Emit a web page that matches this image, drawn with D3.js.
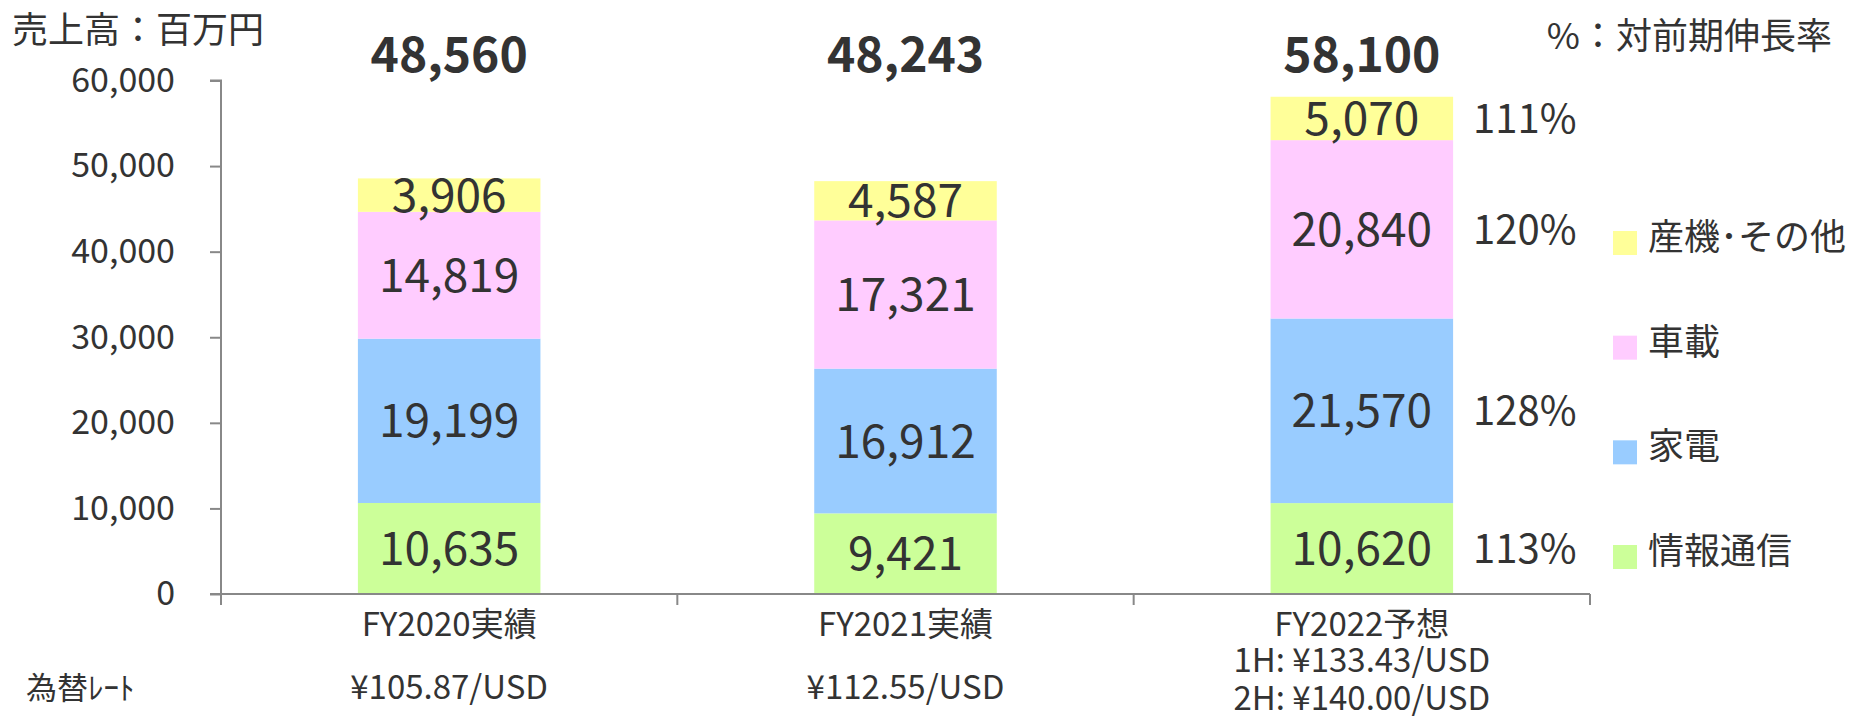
<!DOCTYPE html>
<html>
<head>
<meta charset="utf-8">
<script src="https://cdn.jsdelivr.net/npm/d3@7"></script>
<style>
    body { margin: 0; background: #fff; }
    text { font-family: "Noto Sans CJK JP", "Noto Sans", sans-serif; fill: #333; }
</style>
</head>
<body>
<div id="chart"></div>
<script>
// data
var categories = ["FY2020実績", "FY2021実績", "FY2022予想"];
var seriesNames = ["情報通信", "家電", "車載", "産機･その他"];
var infoComm = [10635, 9421, 10620];
var homeAppl = [19199, 16912, 21570];
var automotive = [14819, 17321, 20840];
var industrial = [3906, 4587, 5070];
var totals = [48560, 48243, 58100];
var growth = ["113%", "128%", "120%", "111%"]; // FY2022, bottom to top
var rateLines = [["¥105.87/USD"], ["¥112.55/USD"], ["1H: ¥133.43/USD", "2H: ¥140.00/USD"]];
var yTicks = [0, 10000, 20000, 30000, 40000, 50000, 60000];
var colors = ["#ccff99", "#99ccff", "#ffccff", "#ffff99"];

(function () {
var W = 1856, H = 719;
var pl = 221, pr = 1590, pt = 80.5, pb = 594;

var svg = d3.select("#chart").append("svg")
    .attr("width", W)
    .attr("height", H);

var x = d3.scaleBand().domain(categories).range([pl, pr]);
var y = d3.scaleLinear().domain([0, 60000]).range([pb, pt]);
var fmt = d3.format(",");

var rows = categories.map(function (c, i) {
    return { cat: c, 情報通信: infoComm[i], 家電: homeAppl[i], 車載: automotive[i], "産機･その他": industrial[i] };
});
var stack = d3.stack().keys(seriesNames)(rows);

var barW = x.bandwidth() * 0.4;
var barOff = (x.bandwidth() - barW) / 2;

// bars
var layers = svg.selectAll(".layer")
    .data(stack)
    .enter().append("g")
    .attr("class", "layer")
    .attr("fill", function (d, i) { return colors[i]; });

layers.selectAll("rect")
    .data(function (d) { return d; })
    .enter().append("rect")
    .attr("x", function (d) { return x(d.data.cat) + barOff; })
    .attr("width", barW)
    .attr("y", function (d) { return y(d[1]); })
    .attr("height", function (d) { return y(d[0]) - y(d[1]); });

// segment labels
layers.selectAll("text")
    .data(function (d) { return d; })
    .enter().append("text")
    .attr("x", function (d) { return x(d.data.cat) + x.bandwidth() / 2; })
    .attr("y", function (d) { return (y(d[0]) + y(d[1])) / 2; })
    .attr("dy", "0.36em")
    .attr("text-anchor", "middle")
    .style("font-size", "46px")
    .text(function (d) { return fmt(d[1] - d[0]); });

// growth rates next to last bar
var last = categories[categories.length - 1];
svg.selectAll(".growth")
    .data(stack)
    .enter().append("text")
    .attr("class", "growth")
    .attr("x", x(last) + barOff + barW + 20)
    .attr("y", function (d) { var s = d[d.length - 1]; return (y(s[0]) + y(s[1])) / 2; })
    .attr("dy", "0.36em")
    .style("font-size", "40px")
    .text(function (d, i) { return growth[i]; });

// totals
svg.selectAll(".total")
    .data(totals)
    .enter().append("text")
    .attr("class", "total")
    .attr("x", function (d, i) { return x(categories[i]) + x.bandwidth() / 2; })
    .attr("y", 72)
    .attr("text-anchor", "middle")
    .style("font-size", "48px")
    .style("font-weight", "bold")
    .text(function (d) { return fmt(d); });

// y axis
var yAxis = svg.append("g")
    .attr("transform", "translate(" + pl + ",0)")
    .call(d3.axisLeft(y).tickValues(yTicks).tickFormat(fmt).tickSize(11).tickPadding(35));
yAxis.selectAll("line, path").attr("stroke", "#888").attr("stroke-width", 2);
yAxis.select(".domain").attr("d", "M-11," + pt + "H0V" + pb + "H-11");
yAxis.selectAll("text").style("font-size", "34px").attr("fill", "#333").style("font-family", "'Noto Sans CJK JP', sans-serif");

// x axis with separators
var xAxis = svg.append("g")
    .attr("transform", "translate(0," + pb + ")");
xAxis.append("line")
    .attr("x1", pl).attr("x2", pr)
    .attr("stroke", "#888").attr("stroke-width", 2);
xAxis.selectAll(".sep")
    .data(categories.concat([null]))
    .enter().append("line")
    .attr("class", "sep")
    .attr("x1", function (d) { return d === null ? pr : x(d); })
    .attr("x2", function (d) { return d === null ? pr : x(d); })
    .attr("y1", 0).attr("y2", 11)
    .attr("stroke", "#888").attr("stroke-width", 2);

xAxis.selectAll(".cat")
    .data(categories)
    .enter().append("text")
    .attr("class", "cat")
    .attr("x", function (d) { return x(d) + x.bandwidth() / 2; })
    .attr("y", 42)
    .attr("text-anchor", "middle")
    .style("font-size", "33px")
    .text(function (d) { return d; });

// exchange rates
svg.append("text")
    .attr("x", 26).attr("y", 699)
    .style("font-size", "31px")
    .text("為替ﾚｰﾄ");

var rateG = svg.selectAll(".rate")
    .data(rateLines)
    .enter().append("text")
    .attr("class", "rate")
    .attr("x", function (d, i) { return x(categories[i]) + x.bandwidth() / 2; })
    .attr("text-anchor", "middle")
    .style("font-size", "33px");
rateG.selectAll("tspan")
    .data(function (d) { return d; })
    .enter().append("tspan")
    .attr("x", function () { return d3.select(this.parentNode).attr("x"); })
    .attr("y", function (d, i, nodes) { return nodes.length === 1 ? 699 : 672 + i * 38; })
    .text(function (d) { return d; });

// titles
svg.append("text")
    .attr("x", 12).attr("y", 43)
    .style("font-size", "36px")
    .text("売上高：百万円");
svg.append("text")
    .attr("x", 1832).attr("y", 49)
    .attr("text-anchor", "end")
    .style("font-size", "36px")
    .text("%：対前期伸長率");

// legend, top to bottom
var legendY = d3.scalePoint().domain(seriesNames.slice().reverse()).range([237, 551]);
var lg = svg.selectAll(".legend")
    .data(seriesNames)
    .enter().append("g")
    .attr("class", "legend")
    .attr("transform", function (d) { return "translate(1613," + legendY(d) + ")"; });
lg.append("rect")
    .attr("x", 0).attr("y", -6)
    .attr("width", 24).attr("height", 24)
    .attr("fill", function (d, i) { return colors[i]; });
lg.append("text")
    .attr("x", 35).attr("dy", "0.36em")
    .style("font-size", "36px")
    .text(function (d) { return d; });
})();
</script>
</body>
</html>
